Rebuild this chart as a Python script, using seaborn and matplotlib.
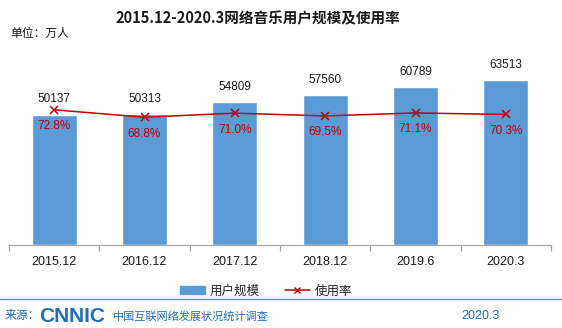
import matplotlib
matplotlib.use("Agg")
import matplotlib.pyplot as plt
import seaborn as sns
import pandas as pd
from matplotlib.patches import Patch
from matplotlib.lines import Line2D

periods = ["2015.12", "2016.12", "2017.12", "2018.12", "2019.6", "2020.3"]
users = [50137, 50313, 54809, 57560, 60789, 63513]
rates = [72.8, 68.8, 71.0, 69.5, 71.1, 70.3]
title = "2015.12-2020.3网络音乐用户规模及使用率"
unit = "单位：万人"
series_names = ["用户规模", "使用率"]

sns.set_theme(style="white")
plt.rcParams['font.family'] = ['Noto Sans CJK SC', 'DejaVu Sans']

BAR = "#5b9bd5"
RED = "#c00000"
FOOT = "#1f6dc2"

df = pd.DataFrame({"period": periods, "users": users, "rate": rates})

fig = plt.figure(figsize=(5.62, 3.28), dpi=100)
fig.patch.set_facecolor("white")

ax = fig.add_axes([9/562, 1 - 245/328, 542/562, 208/328])
ax.set_facecolor("none")
sns.barplot(data=df, x="period", y="users", color=BAR, width=0.5,
            saturation=1, ax=ax, zorder=2)
ax.set_xlim(-0.5, len(periods) - 0.5)
ax.set_ylim(0, 80000)
ax.set_xlabel("")
ax.set_ylabel("")
ax.set_yticks([])
for s in ["left", "right", "top"]:
    ax.spines[s].set_visible(False)
ax.spines["bottom"].set_color("#a6a6a6")
ax.spines["bottom"].set_linewidth(0.9)
ax.tick_params(axis="x", which="major", length=0, pad=8)
ax.set_xticks(range(len(periods)))
ax.set_xticklabels(periods, fontsize=9, family="Liberation Sans", color="#1a1a1a")
ax.set_xticks([i - 0.5 for i in range(len(periods) + 1)], minor=True)
ax.tick_params(axis="x", which="minor", length=4, color="#a6a6a6", width=0.9, bottom=True)

for i, v in enumerate(users):
    ax.text(i, v + 3600, str(v), ha="center", va="bottom", fontsize=8.5,
            family="Liberation Sans", color="#1a1a1a")

ax2 = ax.twinx()
sns.lineplot(data=df, x="period", y="rate", sort=False, color=RED, marker="x",
             markersize=6, markeredgewidth=1.1, markeredgecolor=RED,
             linewidth=1.1, ax=ax2, zorder=3)
ax2.set_ylim(0, 112)
ax2.set_xlim(-0.5, len(periods) - 0.5)
ax2.set_yticks([])
ax2.set_ylabel("")
ax2.set_xlabel("")
for s in ["left", "right", "top", "bottom"]:
    ax2.spines[s].set_visible(False)
for i, r in enumerate(rates):
    ax2.text(i, r - 5.6, f"{r:.1f}%", ha="center", va="top", fontsize=8.5,
             family="Liberation Sans", color=RED)

fig.text(258/562, 1 - 18/328, title, ha="center", va="center", fontsize=10.5,
         fontweight="bold", color="#1a1a1a")
fig.text(10/562, 1 - 33/328, unit, ha="left", va="center", fontsize=8.5, color="#1a1a1a")

handles = [Patch(facecolor=BAR, edgecolor=BAR),
           Line2D([0], [0], color=RED, marker="x", markersize=5, linewidth=1.1)]
fig.legend(handles, series_names, loc="center", bbox_to_anchor=(266/562, 1 - 291/328),
           ncol=2, frameon=False, fontsize=9, handlelength=2.0, handleheight=0.6,
           columnspacing=2.0, handletextpad=0.4)

# footer
fig.add_artist(Line2D([0, 1], [1 - 299/328] * 2, color="#5b8fd0", linewidth=1.0,
                      transform=fig.transFigure))
fy = 1 - 316/328
fig.text(5/562, fy, "来源：", ha="left", va="center", fontsize=8.5, color=FOOT)
fig.text(39/562, fy, "CNNIC", ha="left", va="center", fontsize=15, fontweight="bold",
         family="Liberation Sans", color=FOOT)
fig.text(113/562, fy, "中国互联网络发展状况统计调查", ha="left", va="center",
         fontsize=8, color=FOOT)
fig.text(500/562, fy, "2020.3", ha="right", va="center", fontsize=9,
         family="Liberation Sans", color=FOOT)

fig.savefig("out.png", dpi=100)
